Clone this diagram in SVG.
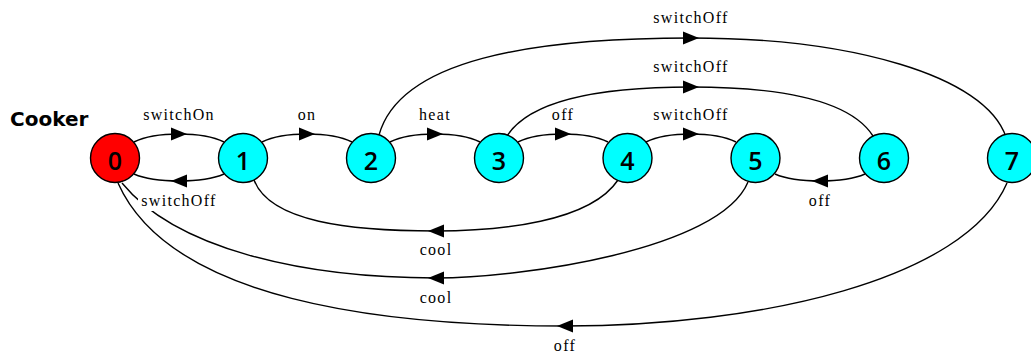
<svg xmlns="http://www.w3.org/2000/svg" width="1031" height="354" viewBox="0 0 1031 354">
  <style>
    .edge { fill: none; stroke: #000; stroke-width: 1.4; marker-mid: url(#arrow); }
    .lbl { font-family: "Liberation Serif", "Times New Roman", serif; font-size: 16px; letter-spacing: 1.3px; text-anchor: middle; fill: #000; }
    .node circle { stroke: #000; stroke-width: 1.4; }
    .init circle { fill: #ff0000; }
    .state circle { fill: #00ffff; }
    .node text { font-family: "Open Sans", "DejaVu Sans", sans-serif; font-weight: 600; font-size: 25px; text-anchor: middle; fill: #000; }
    .title { font-family: "DejaVu Sans", sans-serif; font-weight: bold; font-size: 20px; fill: #000; }
  </style>
  <defs>
    <marker id="arrow" markerUnits="userSpaceOnUse" markerWidth="20" markerHeight="20" viewBox="-10 -10 20 20" refX="0" refY="0" orient="auto">
      <path d="M-8,-6.5 L8,0 L-8,6.5 z" fill="#000"/>
    </marker>
  </defs>
  <rect x="0" y="0" width="1031" height="354" fill="#fff"/>
  <text class="title" x="10" y="126">Cooker</text>

  <g id="connectors">
    <path id="e0-1" class="edge" d="M134,142 Q150,134 179,134 Q208,134 224,142"/>
    <path id="e1-0" class="edge" d="M224,174 Q208,181 179,181 Q150,181 134,174"/>
    <path id="e1-2" class="edge" d="M262,142 Q278,134 307,134 Q336,134 352,142"/>
    <path id="e2-3" class="edge" d="M390,142 Q406,134 435,134 Q464,134 480,142"/>
    <path id="e3-4" class="edge" d="M518,142 Q534,134 563,134 Q592,134 608,142"/>
    <path id="e4-5" class="edge" d="M646,142 Q662,134 691,134 Q720,134 736,142"/>
    <path id="e6-5" class="edge" d="M865,174 Q849,181 820,181 Q791,181 775,174"/>
    <path id="e4-1" class="edge" d="M618,180 C590,222 500,231 436,231 C350,231 270,222 254,180"/>
    <path id="e5-0" class="edge" d="M748,182 C720,250 520,278 436,278 C300,278 175,248 122,183"/>
    <path id="e7-0" class="edge" d="M1007,183 C965,280 760,326 565,326 C380,326 170,300 118,183"/>
    <path id="e2-7" class="edge" d="M379,135 C400,60 530,38 691,38 C850,38 985,75 1006,137"/>
    <path id="e3-6" class="edge" d="M507,136 C530,100 600,87 691,87 C780,87 850,100 873,136"/>
    <rect x="138" y="192" width="82" height="19" fill="#fff"/>
    <text class="lbl" x="179" y="119.5">switchOn</text>
    <text class="lbl" x="179" y="206">switchOff</text>
    <text class="lbl" x="307" y="119.5">on</text>
    <text class="lbl" x="435" y="119.5">heat</text>
    <text class="lbl" x="563" y="119.5">off</text>
    <text class="lbl" x="691" y="119.5">switchOff</text>
    <text class="lbl" x="820" y="206">off</text>
    <text class="lbl" x="436" y="255">cool</text>
    <text class="lbl" x="436" y="303">cool</text>
    <text class="lbl" x="565" y="351">off</text>
    <text class="lbl" x="691" y="71.5">switchOff</text>
    <text class="lbl" x="691" y="23">switchOff</text>
  </g>

  <g id="n0" class="node init"><circle cx="115" cy="158" r="24.5"/><text x="115" y="170">0</text></g>
  <g id="n1" class="node state"><circle cx="243" cy="158" r="24.5"/><text x="243" y="170">1</text></g>
  <g id="n2" class="node state"><circle cx="371" cy="158" r="24.5"/><text x="371" y="170">2</text></g>
  <g id="n3" class="node state"><circle cx="499" cy="158" r="24.5"/><text x="499" y="170">3</text></g>
  <g id="n4" class="node state"><circle cx="627.5" cy="158" r="24.5"/><text x="627.5" y="170">4</text></g>
  <g id="n5" class="node state"><circle cx="755.5" cy="158" r="24.5"/><text x="755.5" y="170">5</text></g>
  <g id="n6" class="node state"><circle cx="884" cy="158" r="24.5"/><text x="884" y="170">6</text></g>
  <g id="n7" class="node state"><circle cx="1012" cy="158" r="24.5"/><text x="1012" y="170">7</text></g>
</svg>
